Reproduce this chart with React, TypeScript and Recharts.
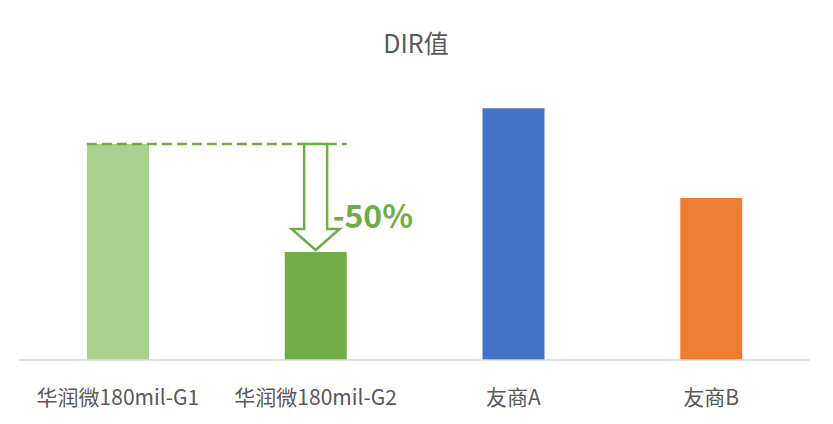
import React from "react";
import { BarChart, Bar, XAxis, YAxis, Cell, ReferenceLine } from "recharts";

const categories = ["华润微180mil-G1", "华润微180mil-G2", "友商A", "友商B"];
const dirValues = [200, 100, 233, 150];
const barColors = ["#A9D18E", "#70AD47", "#4472C4", "#ED7D31"];
const title = "DIR值";
const changeLabel = "-50%";

const data = categories.map((name, i) => ({ name, value: dirValues[i] }));

const FONT = "'Noto Sans CJK SC', 'Noto Sans', sans-serif";
const BAR_SIZE = 62;
const GREEN = "#70AD47";

const DashShape = (props: any) => {
  const { x1, y1, x2, y2 } = props;
  if (x1 == null) return null;
  return (
    <line
      x1={x1 - BAR_SIZE / 2}
      y1={y1}
      x2={x2 + BAR_SIZE / 2}
      y2={y2}
      stroke={GREEN}
      strokeWidth={2.5}
      strokeDasharray="10 5"
    />
  );
};

const ArrowShape = (props: any) => {
  const { x1, y1, y2 } = props;
  if (x1 == null) return null;
  const cx = x1;
  const top = y1;
  const tip = y2 - 2;
  const headH = 21;
  const shaftW = 11.5;
  const headW = 24;
  const d = `M ${cx - shaftW} ${top} L ${cx + shaftW} ${top} L ${cx + shaftW} ${tip - headH} L ${cx + headW} ${tip - headH} L ${cx} ${tip} L ${cx - headW} ${tip - headH} L ${cx - shaftW} ${tip - headH} Z`;
  return (
    <g>
      <path d={d} fill="#ffffff" stroke={GREEN} strokeWidth={2.5} strokeLinejoin="miter" />
      <text
        x={cx + 17}
        y={(top + tip) / 2 + 31}
        fontFamily={FONT}
        fontSize={32}
        fontWeight="bold"
        fill={GREEN}
      >
        {changeLabel}
      </text>
    </g>
  );
};

export default function App() {
  return (
    <div style={{ position: "absolute", left: 0, top: 0, width: 833, height: 424, background: "#fff" }}>
      <svg width={833} height={70} style={{ position: "absolute", left: 0, top: 0 }}>
        <text x={416} y={53} textAnchor="middle" fontFamily={FONT} fontSize={25} fill="#595959">
          {title}
        </text>
      </svg>
      <div style={{ position: "absolute", left: 0, top: 0 }}>
        <BarChart
          width={833}
          height={424}
          data={data}
          margin={{ top: 90, right: 23, left: 19, bottom: 0 }}
        >
          <XAxis
            dataKey="name"
            height={64}
            axisLine={{ stroke: "#D9D9D9", strokeWidth: 1.5 }}
            tickLine={false}
            tickSize={0}
            tickMargin={30}
            tick={{ fill: "#595959", fontSize: 21, fontFamily: FONT }}
            interval={0}
          />
          <YAxis hide domain={[0, 250]} />
          <Bar dataKey="value" barSize={BAR_SIZE} isAnimationActive={false}>
            {data.map((d, i) => (
              <Cell key={d.name} fill={barColors[i]} />
            ))}
          </Bar>
          <ReferenceLine
            segment={[
              { x: categories[0], y: dirValues[0] },
              { x: categories[1], y: dirValues[0] },
            ]}
            shape={DashShape}
            ifOverflow="visible"
          />
          <ReferenceLine
            segment={[
              { x: categories[1], y: dirValues[0] },
              { x: categories[1], y: dirValues[1] },
            ]}
            shape={ArrowShape}
            ifOverflow="visible"
          />
        </BarChart>
      </div>
    </div>
  );
}
